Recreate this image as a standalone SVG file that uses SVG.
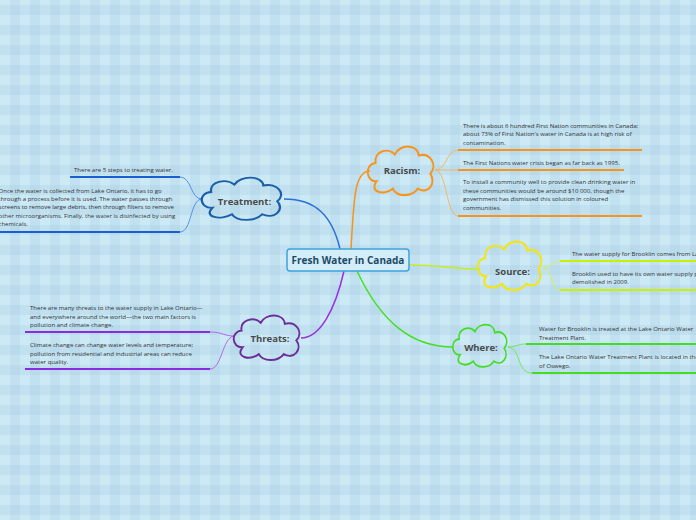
<svg xmlns="http://www.w3.org/2000/svg" width="696" height="520" viewBox="0 0 696 520">
<defs>
<pattern id="bg" patternUnits="userSpaceOnUse" width="20" height="20">
<rect width="20" height="20" fill="#cce9f6"/>
<rect x="10" width="10" height="20" fill="#3c7896" fill-opacity="0.065"/>
<rect y="5" width="20" height="10" fill="#3c7896" fill-opacity="0.065"/>
</pattern>
<path id="cloud" d="M -26,10 C -37,11 -39,-6 -27,-7 C -29,-18 -14,-22 -7,-15 C -2,-25 17,-25 18,-14 C 30,-17 38,-5 30,3 C 37,12 27,23 17,17 C 11,25 -5,25 -9,17 C -19,24 -34,20 -26,10 Z"/>
</defs>
<style>
.leaf{font-family:"Open Sans","Noto Sans",sans-serif;font-size:6.05px;fill:#333}
.lbl{font-family:"Open Sans","Noto Sans",sans-serif;font-size:9.5px;font-weight:bold;fill:#4a4a4a;text-anchor:middle}
.title{font-family:"Open Sans","Noto Sans",sans-serif;font-size:10px;font-weight:bold;fill:#1c4966;text-anchor:middle}
.cl{fill:none;stroke-width:2;vector-effect:non-scaling-stroke}
.br{fill:none;stroke-width:1.5}
.lc{fill:none;stroke-width:0.9}
.ul{fill:none;stroke-width:2}
</style>
<rect width="696" height="520" fill="url(#bg)"/>
<g id="connectors">
<path class="br" stroke="#f7941d" d="M351,249 C354,200 354,171 370,171"/>
<path class="br" stroke="#2a6fdb" d="M340,249 C332,215 315,199 284,199"/>
<path class="br" stroke="#c8ec1e" d="M409,265 C440,265 455,269 480,269"/>
<path class="br" stroke="#44e022" d="M357,271 C380,320 410,347 453,347"/>
<path class="br" stroke="#9b2ee0" d="M344,271 C335,310 320,338 301,338"/>
<path class="lc" stroke="#f5b552" d="M435,170 C447,170 446,150 458,150 M435,170 L458,170 M435,170 C447,170 446,216 458,216"/>
<path class="lc" stroke="#d7ef4a" d="M543,268 C551,268 552,261 560,261 M543,268 C553,268 550,290 560,290"/>
<path class="lc" stroke="#6be64a" d="M508,347 C516,347 517,344 526,344 M508,347 C522,349 516,373 532,373"/>
<path class="lc" stroke="#4a88e6" d="M202,199 C190,199 192,177 180,177 M202,199 C190,199 192,232 180,232"/>
<path class="lc" stroke="#b05ae8" d="M234,336 C224,336 222,332 210,332 M234,336 C222,338 222,369 210,369"/>
<path class="ul" stroke="#f7941d" d="M458,150 H642 M458,170 H624 M458,216 H642"/>
<path class="ul" stroke="#c8f000" d="M560,261 H696 M560,290 H696"/>
<path class="ul" stroke="#44dd22" d="M526,344 H696 M532,373 H696"/>
<path class="ul" stroke="#1a5fd0" d="M70,177 H180 M0,232 H180"/>
<path class="ul" stroke="#8a2be2" d="M25,332 H210 M25,369 H210"/>
</g>
<g id="center">
<rect x="287" y="249" width="122" height="22" rx="3" fill="#d3edf9" stroke="#3ba3dc" stroke-width="1.5"/>
<text class="title" x="348" y="263.5">Fresh Water in Canada</text>
</g>
<g id="racism">
<use href="#cloud" class="cl" stroke="#f7941d" transform="translate(401.5,170.5) scale(0.96,1.07)"/>
<text class="lbl" x="402" y="174">Racism:</text>
</g>
<g id="treatment">
<use href="#cloud" class="cl" stroke="#1a5fa8" transform="translate(242.5,198.5) scale(1.16,0.93)"/>
<text class="lbl" x="244.5" y="205">Treatment:</text>
</g>
<g id="source">
<use href="#cloud" class="cl" stroke="#f5e50a" transform="translate(510.5,265.5) scale(0.93,1.07)"/>
<text class="lbl" x="512.5" y="275">Source:</text>
</g>
<g id="where">
<use href="#cloud" class="cl" stroke="#44dd22" transform="translate(480.5,345.5) scale(0.79,0.93)"/>
<text class="lbl" x="481" y="350.5">Where:</text>
</g>
<g id="threats">
<use href="#cloud" class="cl" stroke="#6b2f9a" transform="translate(267.5,337.5) scale(0.96,0.98)"/>
<text class="lbl" x="270" y="341.5">Threats:</text>
</g>
<g id="racism-leaves">
<text class="leaf" x="463" y="127.5">There is about 6 hundred First Nation communities in Canada;</text>
<text class="leaf" x="463" y="136">about 73% of First Nation's water in Canada is at high risk of</text>
<text class="leaf" x="463" y="144.5">contamination.</text>
<text class="leaf" x="463" y="164.5">The First Nations water crisis began as far back as 1995.</text>
<text class="leaf" x="463" y="184">To install a community well to provide clean drinking water in</text>
<text class="leaf" x="463" y="192.5">these communities would be around $10 000, though the</text>
<text class="leaf" x="463" y="201">government has dismissed this solution in coloured</text>
<text class="leaf" x="463" y="209.5">communities.</text>
</g>
<g id="source-leaves">
<text class="leaf" x="572" y="256">The water supply for Brooklin comes from La</text>
<text class="leaf" x="572" y="275.5">Brooklin used to have its own water supply pl</text>
<text class="leaf" x="572" y="284">demolished in 2009.</text>
</g>
<g id="where-leaves">
<text class="leaf" x="539" y="331">Water for Brooklin is treated at the Lake Ontario Water</text>
<text class="leaf" x="539" y="339.5">Treatment Plant.</text>
<text class="leaf" x="539" y="359">The Lake Ontario Water Treatment Plant is located in the</text>
<text class="leaf" x="539" y="368">of Oswego.</text>
</g>
<g id="treatment-leaves">
<text class="leaf" x="74" y="172">There are 5 steps to treating water.</text>
<text class="leaf" x="-1.5" y="192.5">Once the water is collected from Lake Ontario, it has to go</text>
<text class="leaf" x="-1.5" y="200.5">through a process before it is used. The water passes through</text>
<text class="leaf" x="-1.5" y="209">screens to remove large debris, then through filters to remove</text>
<text class="leaf" x="-1.5" y="217.5">other microorganisms. Finally, the water is disinfected by using</text>
<text class="leaf" x="-1.5" y="226">chemicals.</text>
</g>
<g id="threats-leaves">
<text class="leaf" x="30" y="310">There are many threats to the water supply in Lake Ontario—</text>
<text class="leaf" x="30" y="318.5">and everywhere around the world—the two main factors is</text>
<text class="leaf" x="30" y="327">pollution and climate change.</text>
<text class="leaf" x="30" y="347">Climate change can change water levels and temperature;</text>
<text class="leaf" x="30" y="355.5">pollution from residential and industrial areas can reduce</text>
<text class="leaf" x="30" y="363.5">water quality.</text>
</g>
</svg>
